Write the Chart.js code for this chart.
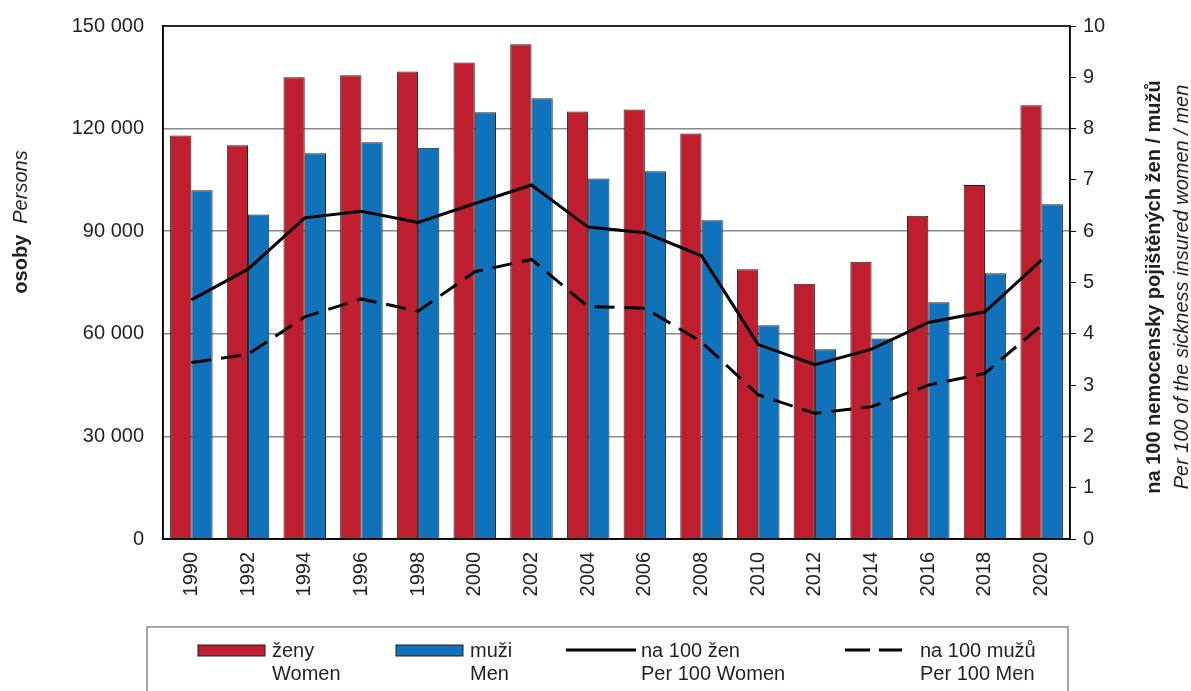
<!DOCTYPE html>
<html lang="cs">
<head>
<meta charset="utf-8">
<title>Pracovní neschopnost – ženy a muži</title>
<script src="https://cdn.jsdelivr.net/npm/chart.js@4/dist/chart.umd.min.js"></script>
<style>
    html, body { margin: 0; padding: 0; background: #fff; }
    canvas { display: block; }
</style>
</head>
<body>
<canvas id="graf" width="1191" height="691"></canvas>
<script>
const roky = ['1990', '1992', '1994', '1996', '1998', '2000', '2002', '2004', '2006', '2008', '2010', '2012', '2014', '2016', '2018', '2020'];
const zeny = [118000, 115100, 135000, 135600, 136700, 139300, 144700, 125000, 125600, 118600, 78900, 74600, 81100, 94500, 103500, 126800];
const muzi = [102000, 94900, 112800, 116000, 114400, 124800, 128900, 105400, 107500, 93200, 62500, 55500, 58600, 69200, 77700, 97900];
const na100Zen = [4.66, 5.26, 6.26, 6.39, 6.17, 6.54, 6.90, 6.08, 5.97, 5.52, 3.79, 3.40, 3.70, 4.22, 4.43, 5.44];
const na100Muzu = [3.44, 3.60, 4.33, 4.68, 4.44, 5.21, 5.45, 4.53, 4.50, 3.84, 2.81, 2.45, 2.58, 3.00, 3.23, 4.17];

const CERVENA = '#be1e2d';
const MODRA = '#0f72ba';
const TEXT = '#231f20';
const PISMO = '"Liberation Sans", Arial, sans-serif';

const formatTisice = (v) => String(v).replace(/\B(?=(\d{3})+(?!\d))/g, ' ');

// titulky os, ramecek grafu a legenda se kresli rucne
const doplnky = {
    id: 'doplnky',
    afterDraw: (chart) => {
        const ctx = chart.ctx;
        const area = chart.chartArea;
        ctx.save();

        ctx.strokeStyle = '#000';
        ctx.lineWidth = 1.5;
        ctx.strokeRect(area.left, area.top, area.right - area.left, area.bottom - area.top);

        ctx.fillStyle = TEXT;
        ctx.textBaseline = 'middle';

        // leva osa: "osoby  Persons"
        ctx.save();
        ctx.translate(21, 222);
        ctx.rotate(-Math.PI / 2);
        ctx.font = 'bold 20px ' + PISMO;
        const w1 = ctx.measureText('osoby').width;
        ctx.font = 'italic 20px ' + PISMO;
        const w2 = ctx.measureText('Persons').width;
        const mezera = 11;
        let x0 = -(w1 + mezera + w2) / 2;
        ctx.textAlign = 'left';
        ctx.font = 'bold 20px ' + PISMO;
        ctx.fillText('osoby', x0, 0);
        ctx.font = 'italic 20px ' + PISMO;
        ctx.fillText('Persons', x0 + w1 + mezera, 0);
        ctx.restore();

        // prava osa
        ctx.save();
        ctx.translate(1154, 287);
        ctx.rotate(-Math.PI / 2);
        ctx.textAlign = 'center';
        ctx.font = 'bold 20px ' + PISMO;
        ctx.fillText('na 100 nemocensky pojištěných žen / mužů', 0, 0);
        ctx.font = 'italic 20px ' + PISMO;
        ctx.fillText('Per 100 of the sickness insured women / men', 0, 28);
        ctx.restore();

        // legenda
        ctx.strokeStyle = '#8a8a8a';
        ctx.lineWidth = 1.5;
        ctx.strokeRect(147, 627, 921, 80);

        const swatch = (x, barva) => {
            ctx.fillStyle = barva;
            ctx.fillRect(198 + x, 645, 67, 11);
            ctx.strokeStyle = '#231f20';
            ctx.lineWidth = 1;
            ctx.strokeRect(198 + x, 645, 67, 11);
        };
        swatch(0, CERVENA);
        swatch(198, MODRA);

        ctx.strokeStyle = '#000';
        ctx.lineWidth = 3;
        ctx.beginPath();
        ctx.moveTo(566, 650);
        ctx.lineTo(636, 650);
        ctx.stroke();
        ctx.beginPath();
        ctx.moveTo(845, 650);
        ctx.lineTo(870, 650);
        ctx.moveTo(879, 650);
        ctx.lineTo(902, 650);
        ctx.stroke();

        ctx.fillStyle = TEXT;
        ctx.textAlign = 'left';
        ctx.font = '20px ' + PISMO;
        const popisky = [
            [272, 'ženy', 'Women'],
            [470, 'muži', 'Men'],
            [641, 'na 100 žen', 'Per 100 Women'],
            [920, 'na 100 mužů', 'Per 100 Men']
        ];
        popisky.forEach(([x, cz, en]) => {
            ctx.fillText(cz, x, 651);
            ctx.fillText(en, x, 674);
        });

        ctx.restore();
    }
};

const ctx = document.getElementById('graf').getContext('2d');
new Chart(ctx, {
    type: 'bar',
    data: {
        labels: roky,
        datasets: [
            {
                type: 'line',
                label: 'na 100 žen',
                data: na100Zen,
                yAxisID: 'y1',
                borderColor: '#000',
                borderWidth: 3,
                pointRadius: 0,
                tension: 0,
                order: 1
            },
            {
                type: 'line',
                label: 'na 100 mužů',
                data: na100Muzu,
                yAxisID: 'y1',
                borderColor: '#000',
                borderWidth: 3,
                borderDash: [20, 10],
                pointRadius: 0,
                tension: 0,
                order: 1
            },
            {
                label: 'ženy',
                data: zeny,
                yAxisID: 'y',
                backgroundColor: CERVENA,
                borderColor: '#231f20',
                borderWidth: 1,
                categoryPercentage: 0.75,
                barPercentage: 1.0,
                order: 2
            },
            {
                label: 'muži',
                data: muzi,
                yAxisID: 'y',
                backgroundColor: MODRA,
                borderColor: '#231f20',
                borderWidth: 1,
                categoryPercentage: 0.75,
                barPercentage: 1.0,
                order: 2
            }
        ]
    },
    options: {
        responsive: false,
        animation: false,
        devicePixelRatio: 1,
        layout: { padding: { left: 0, right: 0, top: 26, bottom: 0 } },
        plugins: {
            legend: { display: false },
            tooltip: { enabled: false }
        },
        scales: {
            x: {
                grid: { display: false, drawTicks: false },
                border: { color: '#000', width: 1.5 },
                ticks: {
                    minRotation: 90,
                    maxRotation: 90,
                    padding: 13,
                    color: TEXT,
                    font: { family: PISMO, size: 20 }
                },
                afterFit: (scale) => { scale.height = 152; }
            },
            y: {
                position: 'left',
                min: 0,
                max: 150000,
                grid: { color: '#8a8a8a', lineWidth: 1.5, drawTicks: false },
                border: { color: '#000', width: 1.5 },
                ticks: {
                    stepSize: 30000,
                    padding: 19,
                    color: TEXT,
                    font: { family: PISMO, size: 20 },
                    callback: (v) => formatTisice(v)
                },
                afterFit: (scale) => {
                    scale.width = 163;
                    scale.paddingTop = 0;
                    scale.paddingBottom = 0;
                }
            },
            y1: {
                position: 'right',
                min: 0,
                max: 10,
                grid: { drawOnChartArea: false, drawTicks: true, tickLength: 6, color: '#000', lineWidth: 1 },
                border: { color: '#000', width: 1.5 },
                ticks: {
                    stepSize: 1,
                    padding: 7,
                    color: TEXT,
                    font: { family: PISMO, size: 20 }
                },
                afterFit: (scale) => {
                    scale.width = 121;
                    scale.paddingTop = 0;
                    scale.paddingBottom = 0;
                }
            }
        }
    },
    plugins: [doplnky]
});
</script>
</body>
</html>
